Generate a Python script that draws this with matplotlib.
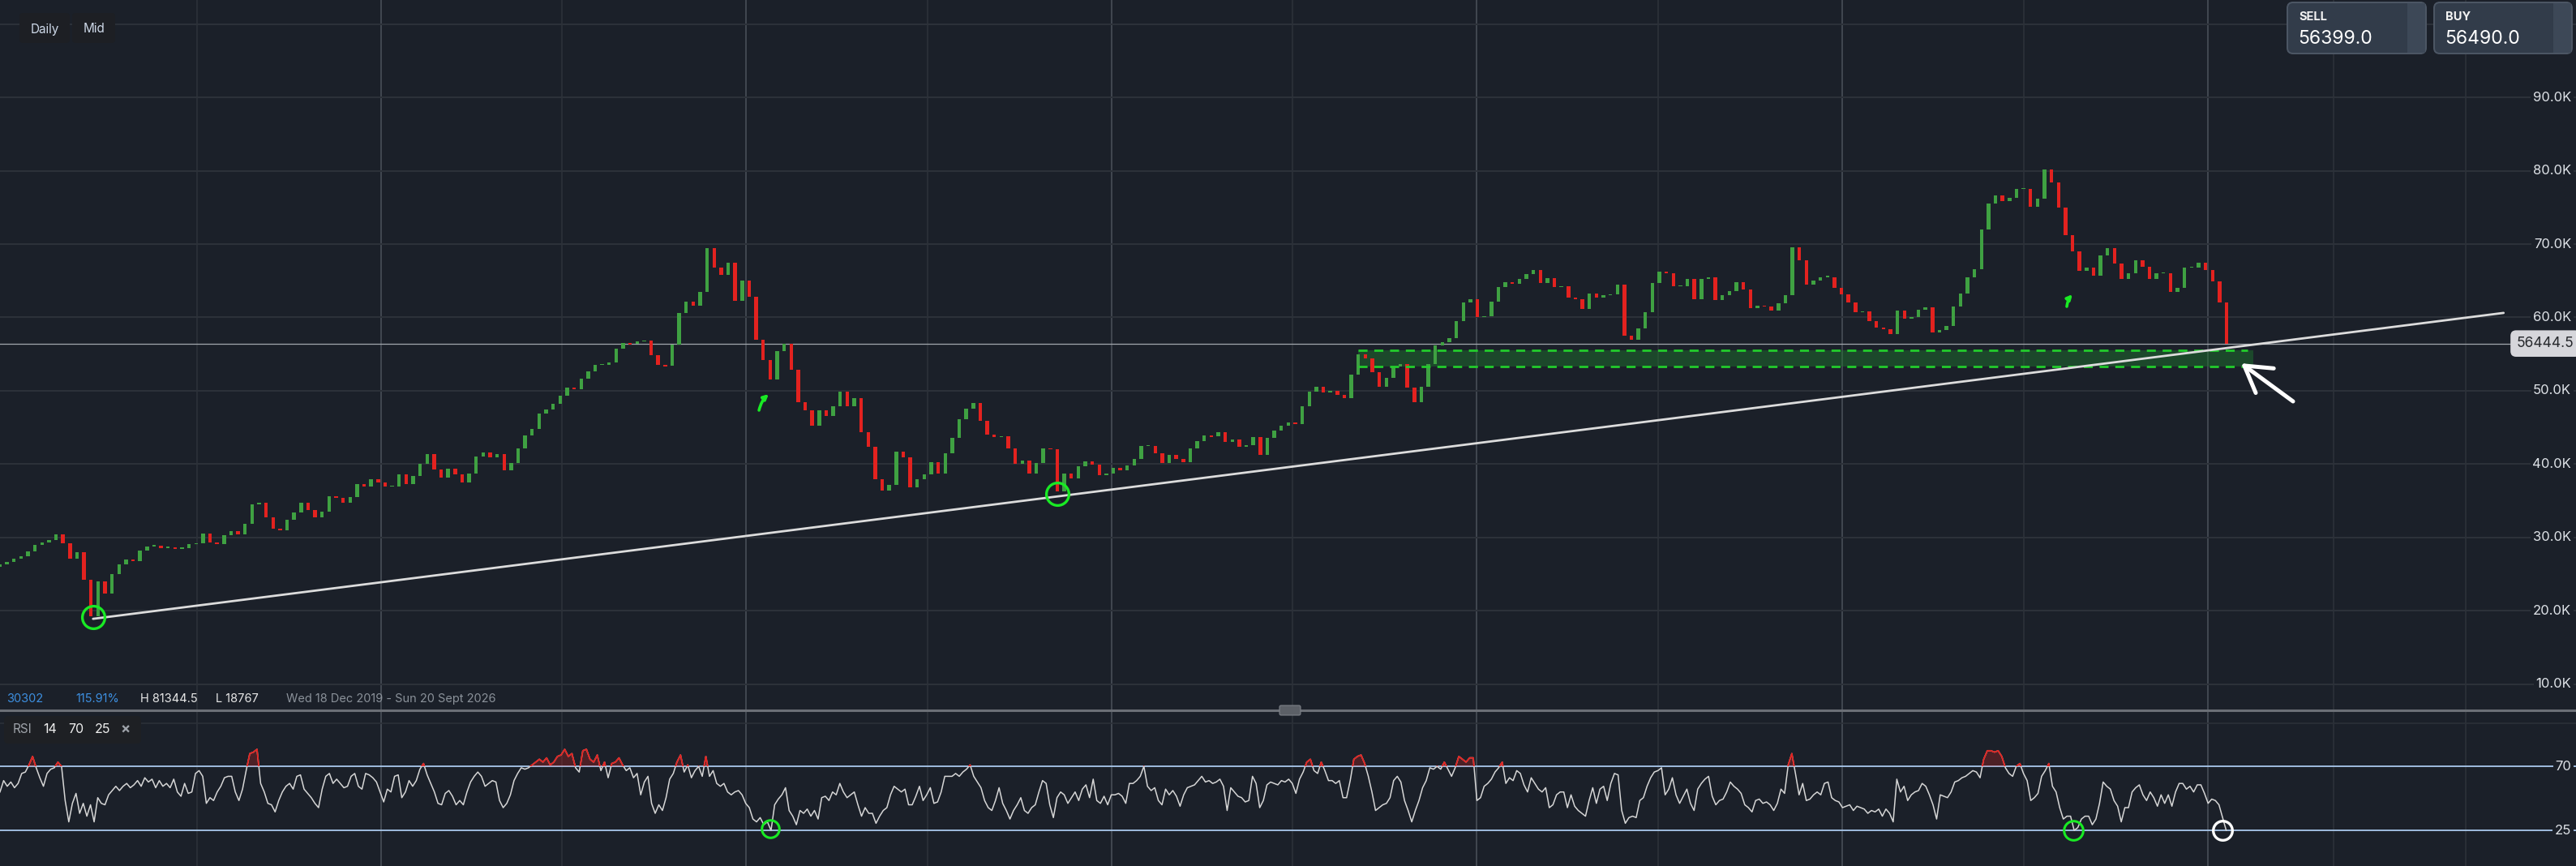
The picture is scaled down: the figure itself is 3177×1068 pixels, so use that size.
import numpy as np
import matplotlib
matplotlib.use("Agg")
import matplotlib.pyplot as plt
from matplotlib.patches import Rectangle, FancyBboxPatch
from matplotlib.lines import Line2D
import matplotlib.transforms as mtrans

plt.rcParams['font.family'] = ['Inter', 'DejaVu Sans']

# ---------------- data ----------------
start_date = np.datetime64('2019-12-17')   # left edge of the chart
first_open = 26000.0
weekly_close = [
    26320, 26700, 27100, 27460, 28100, 29000, 29300, 29700, 30400, 29200,
    27080, 28000, 24200, 19300, 24040, 22400, 25000, 26320, 27000, 26800,
    28200, 28800, 28900, 28600, 28700, 28500, 28600, 29100, 29200, 30600,
    29300, 29100, 30300, 30900, 30490, 31900, 34500, 34800, 32800, 31200,
    31000, 32400, 33400, 34800, 33800, 32800, 33500, 35600, 35400, 34800,
    35500, 37300, 36950, 37900, 37500, 36940, 36940, 38600, 37320, 38400,
    40000, 41400, 39300, 38200, 39400, 38600, 37500, 38700, 41100, 41650,
    40900, 41400, 39210, 40200, 42200, 43900, 44800, 46900, 47500, 48200,
    49300, 50400, 50210, 51700, 52700, 53500, 53500, 53900, 55700, 56500,
    56400, 56700, 56800, 54900, 53500, 53400, 56300, 60600, 62100, 61590,
    63500, 69500, 66800, 65800, 67500, 62300, 65000, 62800, 57000, 54200,
    51500, 55400, 56400, 52860, 48500, 47300, 45300, 47300, 46600, 47900,
    49900, 47900, 49000, 44400, 42400, 37900, 36400, 37200, 41700, 40900,
    36900, 38000, 38600, 40300, 38700, 41490, 43600, 46100, 47560, 48300,
    45900, 44000, 43700, 43800, 42100, 40000, 40500, 38700, 40200, 42200,
    42000, 36300, 38700, 38100, 39700, 40350, 39970, 38460, 38700, 39550,
    39200, 39800, 40730, 42500, 42500, 41490, 40200, 41300, 40700, 40300,
    42100, 43100, 43900, 43800, 44400, 43000, 43400, 42400, 42600, 43700,
    41300, 43600, 44600, 45300, 45660, 45500, 47900, 49900, 50500, 49830,
    50000, 49500, 49000, 52200, 55000, 54400, 52500, 50600, 51800, 53300,
    53700, 50400, 48500, 50590, 53700, 56200, 56660, 57200, 59500, 62000,
    62500, 60000, 60200, 62200, 64100, 64800, 64600, 65200, 65900, 66500,
    64700, 65400, 64100, 64240, 62700, 62500, 61210, 63300, 62700, 63000,
    63200, 64500, 57500, 57000, 58500, 60700, 64700, 66200, 66000, 64200,
    64300, 65200, 62500, 65200, 65500, 62400, 63000, 63600, 64800, 63800,
    61300, 61600, 61500, 60930, 61900, 63000, 69600, 67800, 64500, 65000,
    65500, 65500, 64000, 63140, 62000, 60700, 60800, 59500, 58600, 58360,
    57700, 60930, 59800, 60100, 61000, 61400, 58000, 58300, 58800, 61500,
    63300, 65500, 66600, 72000, 75500, 76600, 75900, 76300, 77500, 77500,
    75100, 76200, 80200, 78400, 75000, 71210, 69000, 66300, 66800, 65700,
    68500, 69500, 67300, 65200, 66000, 67800, 66900, 65300, 66000, 66000,
    63500, 64000, 66800, 66800, 67500, 66500, 64900, 62000, 56444.5,
]

rsi_values = [
    52, 60, 56, 59, 55, 58, 65, 66, 71, 77, 69, 62, 56, 65, 68, 69, 73, 70, 46, 31,
    44, 51, 37, 44, 35, 43, 31, 48, 44, 43, 50, 53, 56, 53, 56, 58, 55, 57, 60, 56,
    62, 59, 61, 55, 60, 56, 58, 55, 61, 52, 49, 58, 51, 52, 65, 67, 63, 44, 48, 46,
    52, 56, 62, 63, 63, 52, 46, 54, 67, 79, 80, 82, 58, 52, 44, 43, 38, 46, 52, 56,
    58, 54, 63, 64, 54, 51, 48, 44, 41, 54, 63, 65, 58, 61, 58, 55, 56, 63, 65, 56,
    54, 65, 64, 62, 59, 52, 45, 54, 52, 63, 64, 48, 52, 60, 56, 60, 68, 72, 64, 58,
    52, 44, 43, 51, 53, 49, 43, 46, 43, 52, 59, 63, 66, 63, 56, 58, 60, 59, 46, 41,
    44, 50, 60, 65, 69, 68, 69, 71, 73, 75, 73, 76, 71, 73, 77, 78, 82, 77, 79, 69,
    66, 81, 82, 75, 73, 78, 67, 73, 62, 72, 73, 76, 71, 67, 69, 62, 65, 50, 59, 63,
    44, 37, 43, 39, 48, 61, 65, 73, 78, 66, 71, 62, 67, 70, 63, 77, 63, 67, 58, 56,
    58, 52, 50, 52, 53, 50, 44, 41, 33, 31, 34, 29, 31, 25, 43, 47, 50, 55, 39, 35,
    29, 39, 37, 40, 35, 39, 33, 48, 49, 46, 52, 50, 58, 52, 48, 50, 52, 43, 35, 41,
    37, 37, 30, 35, 39, 41, 50, 56, 54, 52, 54, 43, 43, 49, 56, 46, 50, 55, 44, 45,
    52, 63, 63, 63, 65, 63, 66, 68, 71, 63, 59, 55, 46, 41, 39, 46, 55, 44, 39, 33,
    39, 43, 48, 39, 37, 41, 43, 52, 60, 58, 43, 34, 48, 52, 50, 44, 48, 52, 46, 54,
    57, 48, 61, 46, 44, 49, 43, 50, 50, 51, 49, 44, 58, 58,
    60, 63, 70, 56, 53, 55, 46, 43, 54, 50, 53, 49, 42, 50, 55, 56, 57, 60, 63, 59,
    60, 58, 59, 61, 56, 39, 55, 52, 49, 48, 45, 46, 63, 58, 41, 46, 57, 59, 58, 57,
    60, 59, 61, 58, 51, 61, 66, 73, 75, 67, 65, 73, 67, 60, 60, 58, 60, 48, 48, 60,
    75, 77, 78, 72, 63, 52, 39, 41, 43, 44, 48, 60, 63, 59, 46, 39, 31, 39, 46, 55,
    60, 69, 68, 70, 68, 73, 68, 63, 69, 77, 75, 73, 76, 76, 46, 48, 56, 58, 61, 66,
    69, 73, 58, 62, 60, 67, 65, 57, 52, 62, 58, 54, 52, 55, 41, 43, 50, 52, 52, 41,
    50, 42, 39, 37, 35, 46, 55, 44, 54, 56, 46, 58, 65, 64, 39, 30, 34, 35, 34, 46,
    48, 56, 62, 66, 67, 69, 50, 54, 62, 50, 44, 49, 54, 44, 39, 54, 58, 61, 63, 49,
    43, 46, 47, 52, 59, 56, 54, 51, 43, 41, 38, 46, 47, 44, 45, 43, 39, 44, 54, 51,
    71, 79, 65, 50, 58, 46, 47, 50, 52, 50, 58, 59, 48, 46, 45, 41, 42, 43, 39, 42,
    41, 40, 37, 39, 38, 40, 35, 40, 37, 31, 61, 52, 56, 46, 50, 52, 53, 58, 56, 50,
    43, 33, 50, 49, 48, 52, 59, 60, 62, 63, 65, 67, 66, 62, 75, 81, 81, 80, 81, 77,
    69, 65, 63, 70, 72, 65, 60, 46, 48, 51, 63, 67, 72, 56, 52, 41, 33, 35, 35, 25,
    27, 33, 35, 35, 29, 33, 44, 59, 56, 54, 46, 42, 31, 41, 41, 52, 55, 57, 50, 46,
    52, 48, 42, 50, 44, 50, 42, 52, 58, 58, 54, 56, 52, 57, 57, 51, 44, 47, 46, 43,
    34, 25,
]

price_levels = [10000, 20000, 30000, 40000, 50000, 60000, 70000, 80000, 90000]
price_labels = ['10.0K', '20.0K', '30.0K', '40.0K', '50.0K', '60.0K', '70.0K', '80.0K', '90.0K']
grid_price_levels = price_levels + [100000]
last_price = 56444.5
sell_price = '56399.0'
buy_price = '56490.0'
rsi_upper, rsi_lower = 70, 25
zone_low, zone_high = 53300, 55500
zone_dates = ('2023-09-05', '2026-02-16')
trend_start = ('2020-03-19', 18930)
trend_end = ('2026-10-24', 60620)
year_lines = ['2021-01-01', '2022-01-01', '2023-01-01', '2024-01-01', '2025-01-01', '2026-01-01']
half_lines = ['2020-07-01', '2021-07-01', '2022-07-01', '2023-07-01', '2024-07-01',
              '2025-07-01', '2026-05-07', '2026-09-16']
info_texts = [('30302', '#3d8fe0'), ('115.91%', '#3d8fe0'), ('H 81344.5', '#e8e8e8'),
              ('L 18767', '#e8e8e8'), ('Wed 18 Dec 2019 - Sun 20 Sept 2026', '#8a9199')]

# ---------------- layout constants ----------------
W, H = 3177, 1068
PX_PER_DAY = 1.2336
CANDLE_STEP = 7.0       # days between candles
RSI_STEP = 3.619        # days between RSI samples
SPLIT = 876             # pixel row of panel separator

BG = '#1b2029'
GRID_H = '#2c3139'
GRID_MAJ = '#454b54'
GRID_MIN = '#2b3038'
GREEN = '#3fa142'
RED = '#e3221f'
MARK_GREEN = '#19ea24'


def day(d):
    return float((np.datetime64(d) - start_date).astype(int))


def fx(px):
    return px / W


def fy(py):
    return 1 - py / H


PIX = mtrans.IdentityTransform()


def rbox(fig, x0, y0, x1, y1, fc, ec='none', r=6, lw=1.0, z=5):
    p = FancyBboxPatch((x0, H - y1), x1 - x0, y1 - y0,
                       boxstyle=f'round,pad=0,rounding_size={r}',
                       transform=PIX, fc=fc, ec=ec, lw=lw, zorder=z)
    fig.add_artist(p)
    return p


fig = plt.figure(figsize=(W / 100, H / 100), dpi=100, facecolor=BG)
ax = fig.add_axes([0, fy(SPLIT), 1, 1 - fy(SPLIT)])
rax = fig.add_axes([0, 0, 1, fy(SPLIT)])

xmax = W / PX_PER_DAY
p_top = 70000 + 301 * 110.5
p_bot = 70000 - (SPLIT - 301) * 110.5
for a in (ax, rax):
    a.set_facecolor(BG)
    a.set_xlim(0, xmax)
    for s in a.spines.values():
        s.set_visible(False)
    a.set_xticks([])
    a.set_yticks([])
    for d in year_lines:
        a.axvline(day(d), color=GRID_MAJ, lw=1.3, zorder=0)
    for d in half_lines:
        a.axvline(day(d), color=GRID_MIN, lw=1.3, zorder=0)
ax.set_ylim(p_bot, p_top)
rax.set_ylim(0, (H - SPLIT) / 1.7556)

for lv in grid_price_levels:
    ax.axhline(lv, color=GRID_H, lw=1.5, zorder=0)

# ---------------- candles ----------------
closes = np.array(weekly_close, dtype=float)
opens = np.concatenate([[first_open], closes[:-1]])
xs = np.arange(len(closes)) * CANDLE_STEP
hts = closes - opens
hts = np.where(np.abs(hts) < 150, np.where(hts >= 0, 150, -150), hts)
cols = [GREEN if c >= o else RED for o, c in zip(opens, closes)]
ax.bar(xs, hts, bottom=opens, width=3.6, color=cols, linewidth=0, zorder=2)

# support zone
z0, z1 = day(zone_dates[0]), day(zone_dates[1])
ax.add_patch(Rectangle((z0, zone_low), z1 - z0, zone_high - zone_low,
                       facecolor='#1f7a2f', alpha=0.45, lw=0, zorder=1.5))
for lv in (zone_low, zone_high):
    ax.plot([z0, z1 - 6], [lv, lv], color='#22cc2c', lw=2.0, ls=(0, (4, 3)), zorder=3)

# current price line and trendline
ax.axhline(last_price, color='#a3a8ae', lw=0.9, zorder=1.8)
ax.plot([day(trend_start[0]), day(trend_end[0])], [trend_start[1], trend_end[1]],
        color='#dcdcdc', lw=2.0, zorder=4, solid_capstyle='round')

# annotations
ax.plot([93.5], [19170], marker='o', ms=20, mfc='none', mec=MARK_GREEN, mew=2.4, zorder=6)
ax.plot([1056.8], [35990], marker='o', ms=20, mfc='none', mec=MARK_GREEN, mew=2.4, zorder=6)
arrow_green = dict(arrowstyle='-|>', color=MARK_GREEN, lw=2.6, mutation_scale=9,
                   shrinkA=0, shrinkB=0, connectionstyle='arc3,rad=-0.15')
ax.annotate('', xy=(768.5, 49560), xytext=(758.8, 47350), arrowprops=arrow_green, zorder=6)
ax.annotate('', xy=(2072.0, 63150), xytext=(2066.3, 61490), arrowprops=arrow_green, zorder=6)
ax.annotate('', xy=(2240.6, 53750), xytext=(2292.5, 48560),
            arrowprops=dict(arrowstyle='->,head_length=0.75,head_width=0.45', color='white',
                            lw=3.6, mutation_scale=30, shrinkA=0, shrinkB=0), zorder=6)

# right axis labels
tr = mtrans.blended_transform_factory(fig.transFigure, ax.transData)
for lv, lab in zip(price_levels, price_labels):
    ax.text(fx(3171), lv, lab, transform=tr, ha='right', va='center', fontsize=12,
            color='#dfe3e8', zorder=7,
            bbox=dict(boxstyle='square,pad=0.15', fc=BG, ec='none'))
ax.text(fx(3104), last_price, f'{last_price:.1f}', transform=tr, ha='left', va='center',
        fontsize=12.5, color='#26282c', zorder=8,
        bbox=dict(boxstyle='round,pad=0.45,rounding_size=0.4', fc='#d6d6db', ec='none'))

# ---------------- RSI panel ----------------
rsi = np.array(rsi_values, dtype=float)
rx = np.arange(len(rsi)) * RSI_STEP
rax.axhline(100, color=GRID_MIN, lw=1.2, zorder=0)
rax.axhline(rsi_upper, color='#a9c8ec', lw=1.3, zorder=1)
rax.axhline(rsi_lower, color='#a9c8ec', lw=1.3, zorder=1)
rax.plot(rx, rsi, color='#d6d6d6', lw=1.1, zorder=3)
red_line, = rax.plot(rx, rsi, color=RED, lw=1.3, zorder=4)
clip = Rectangle((0, rsi_upper), xmax, 60, transform=rax.transData)
red_line.set_clip_path(clip)
rax.fill_between(rx, rsi_upper, rsi, where=rsi > rsi_upper, interpolate=True,
                 color=RED, alpha=0.25, lw=0, zorder=2)
rax.plot([770.0], [26.4], marker='o', ms=15.5, mfc='none', mec=MARK_GREEN, mew=2.2, zorder=6)
rax.plot([2072.8], [25.0], marker='o', ms=17, mfc='none', mec=MARK_GREEN, mew=2.2, zorder=6)
rax.plot([2222.0], [25.0], marker='o', ms=17, mfc='none', mec='white', mew=2.4, zorder=6)
trr = mtrans.blended_transform_factory(fig.transFigure, rax.transData)
for lv in (rsi_upper, rsi_lower):
    rax.text(fx(3171), lv, str(lv), transform=trr, ha='right', va='center', fontsize=12,
             color='#dfe3e8', zorder=7, bbox=dict(boxstyle='square,pad=0.15', fc=BG, ec='none'))

# ---------------- chrome ----------------
fig.add_artist(Line2D([0, 1], [fy(SPLIT), fy(SPLIT)], transform=fig.transFigure,
                      color='#6b6f76', lw=2.2, zorder=9))
rbox(fig, 1578, 870, 1604, 882, fc='#5c6067', ec='#7d8188', r=2, lw=0.8, z=10)

# info line
info_x = [8, 93, 173, 266, 353]
for (s, c), x in zip(info_texts, info_x):
    fig.text(fx(x), fy(862), s, color=c, fontsize=10.5, ha='left', va='center', zorder=10)

# Daily / Mid buttons
rbox(fig, 24, 16, 86, 53, fc='#1d1f24', r=4)
rbox(fig, 89, 16, 142, 53, fc='#1d1f24', r=4)
fig.text(fx(55), fy(36), 'Daily', color='#cdd8e8', fontsize=11, ha='center', va='center', zorder=10)
fig.text(fx(115.5), fy(36), 'Mid', color='#cdd8e8', fontsize=11, ha='center', va='center', zorder=10)

# RSI legend box
rbox(fig, 5, 883, 174, 917, fc='#1e2024', r=5)
fig.text(fx(16), fy(900), 'RSI', color='#9ea3aa', fontsize=11, ha='left', va='center', zorder=10)
for s, x in (('14', 53), ('70', 84), ('25', 117)):
    fig.text(fx(x), fy(900), s, color='#eeeeee', fontsize=11.5, ha='left', va='center', zorder=10)
fig.text(fx(148), fy(900), '×', color='#9ea3aa', fontsize=13, fontweight='bold',
         ha='left', va='center', zorder=10)

# SELL / BUY boxes
for x0, x1, lab, val in ((2821, 2992, 'SELL', sell_price), (3002, 3172, 'BUY', buy_price)):
    rbox(fig, x0, 3, x1, 66, fc='#323c4a', ec='#4d5765', r=7, lw=1.4, z=10)
    fig.add_artist(Rectangle((x1 - 23, H - 65), 22, 61, transform=PIX, fc='#3d4857',
                             ec='none', zorder=10.5))
    fig.text(fx(x0 + 14), fy(21), lab, color='#f2f2f2', fontsize=10.5, fontweight='bold',
             ha='left', va='center', zorder=11)
    fig.text(fx(x0 + 13), fy(48), val, color='#ffffff', fontsize=16.5,
             ha='left', va='center', zorder=11)

fig.savefig('out.png', dpi=100, facecolor=BG)
